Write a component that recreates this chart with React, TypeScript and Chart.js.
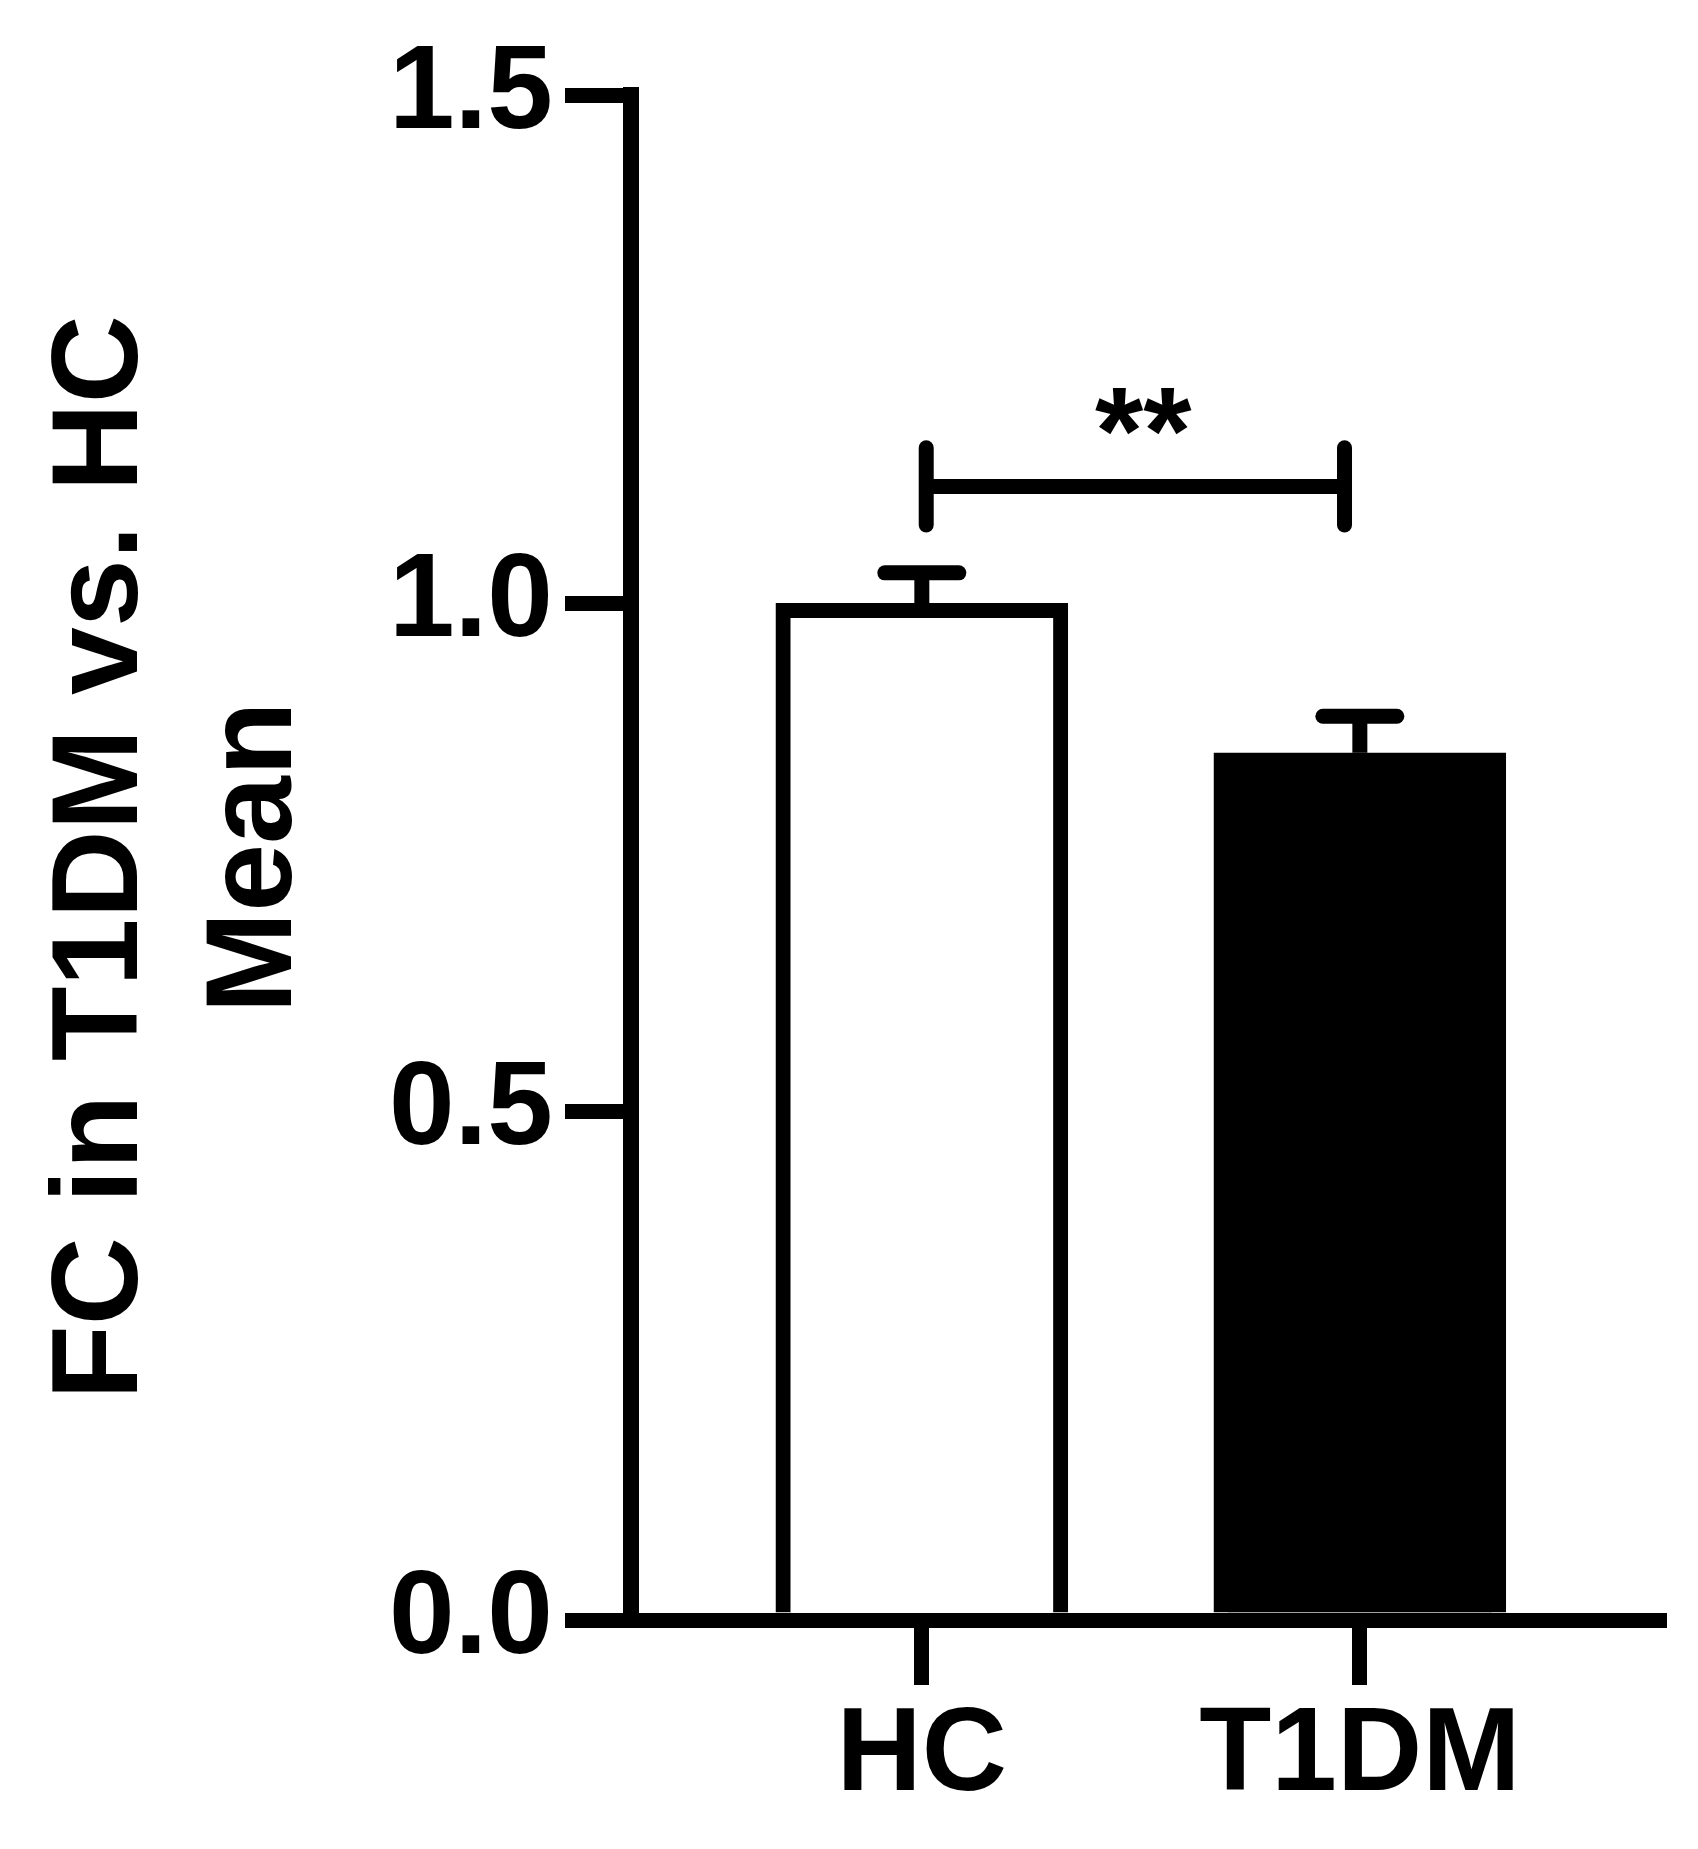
import React, { useEffect, useRef } from 'react';
import { Chart, registerables } from 'chart.js';

Chart.register(...registerables);

// ---- data ----
const categories = ['HC', 'T1DM'];
const means = [1.0, 0.853];
const sems = [0.03, 0.036];
const barFills = ['#ffffff', '#000000'];
const yTicks = [0, 0.5, 1.0, 1.5];
const yTitle = ['FC in T1DM vs. HC', 'Mean'];
const sigLabel = '**';
const sigLevel = 1.115;
const sigSpan = [0.01, 0.965];
const sigArms = [1.077, 1.153];

// ---- styles ----
const W = 1698;
const H = 1849;
const FONT = '"Liberation Sans", Arial, Helvetica, sans-serif';
const LINE = 15;
const ERR_CAP_HALF = 37;

const annotations = {
  id: 'annotations',
  afterDatasetsDraw(chart: any) {
    const { ctx } = chart;
    const x = chart.scales.x;
    const y = chart.scales.y;
    ctx.save();
    ctx.strokeStyle = '#000';
    ctx.fillStyle = '#000';
    ctx.lineWidth = LINE;
    // error bars (upper only)
    means.forEach((m, i) => {
      const cx = x.getPixelForValue(i);
      const base = y.getPixelForValue(m);
      const top = y.getPixelForValue(m + sems[i]);
      ctx.lineCap = 'butt';
      ctx.beginPath();
      ctx.moveTo(cx, base);
      ctx.lineTo(cx, top);
      ctx.stroke();
      ctx.lineCap = 'round';
      ctx.beginPath();
      ctx.moveTo(cx - ERR_CAP_HALF, top);
      ctx.lineTo(cx + ERR_CAP_HALF, top);
      ctx.stroke();
    });
    // significance bracket
    const x1 = x.getPixelForValue(sigSpan[0]);
    const x2 = x.getPixelForValue(sigSpan[1]);
    const yl = y.getPixelForValue(sigLevel);
    const ya = y.getPixelForValue(sigArms[0]);
    const yb = y.getPixelForValue(sigArms[1]);
    ctx.lineCap = 'butt';
    ctx.beginPath();
    ctx.moveTo(x1, yl);
    ctx.lineTo(x2, yl);
    ctx.stroke();
    ctx.lineCap = 'round';
    [x1, x2].forEach((xx) => {
      ctx.beginPath();
      ctx.moveTo(xx, ya);
      ctx.lineTo(xx, yb);
      ctx.stroke();
    });
    ctx.font = `bold 124px ${FONT}`;
    ctx.textAlign = 'center';
    ctx.textBaseline = 'alphabetic';
    ctx.fillText(sigLabel, (x1 + x2) / 2 + 8, yl - 12);
    ctx.restore();
  },
};

export default function App() {
  const ref = useRef<HTMLCanvasElement>(null);

  useEffect(() => {
    const canvas = ref.current;
    if (!canvas) return;
    const chart = new Chart(canvas, {
      type: 'bar',
      data: {
        datasets: [
          {
            data: means.map((m, i) => ({ x: i, y: m })),
            backgroundColor: barFills,
            borderColor: '#000000',
            borderWidth: LINE,
            barThickness: 292,
            grouped: false,
          } as any,
        ],
      },
      options: {
        animation: false,
        responsive: false,
        devicePixelRatio: 1,
        layout: { padding: { left: 0, top: 95, right: 39, bottom: 0 } },
        plugins: {
          legend: { display: false },
          tooltip: { enabled: false },
        },
        scales: {
          x: {
            type: 'linear',
            min: -0.664,
            max: 1.683,
            offset: false,
            afterBuildTicks: (s: any) => {
              s.ticks = categories.map((_, i) => ({ value: i }));
            },
            afterFit: (s: any) => {
              s.height = H - 1620;
            },
            grid: {
              offset: false,
              drawOnChartArea: false,
              drawTicks: true,
              tickLength: 65,
              lineWidth: LINE,
              color: '#000',
              z: 1,
            },
            border: { display: true, width: LINE, color: '#000', z: 1 },
            ticks: {
              autoSkip: false,
              maxRotation: 0,
              color: '#000',
              padding: 13,
              font: { family: FONT, weight: 'bold', size: 118, lineHeight: 1 },
              callback: (v: any) => categories[v as number] ?? '',
            },
          },
          y: {
            min: 0,
            max: 1.5,
            afterBuildTicks: (s: any) => {
              s.ticks = yTicks.map((v) => ({ value: v }));
            },
            afterFit: (s: any) => {
              s.width = 631;
            },
            grid: {
              drawOnChartArea: false,
              drawTicks: true,
              tickLength: 66,
              lineWidth: LINE,
              color: '#000',
              z: 1,
            },
            border: { display: true, width: 16, color: '#000', z: 1 },
            ticks: {
              color: '#000',
              padding: 12,
              font: { family: FONT, weight: 'bold', size: 118, lineHeight: 1 },
              callback: (v: any) => Number(v).toFixed(1),
            },
            title: {
              display: true,
              text: yTitle,
              color: '#000',
              font: { family: FONT, weight: 'bold', size: 122, lineHeight: 1.258 },
              padding: { top: 27, bottom: 0 },
            },
          },
        },
      } as any,
      plugins: [annotations],
    });
    return () => chart.destroy();
  }, []);

  return (
    <div style={{ position: 'absolute', left: 0, top: 0, width: W, height: H, background: '#fff' }}>
      <canvas ref={ref} width={W} height={H} style={{ display: 'block', width: W, height: H }} />
    </div>
  );
}
